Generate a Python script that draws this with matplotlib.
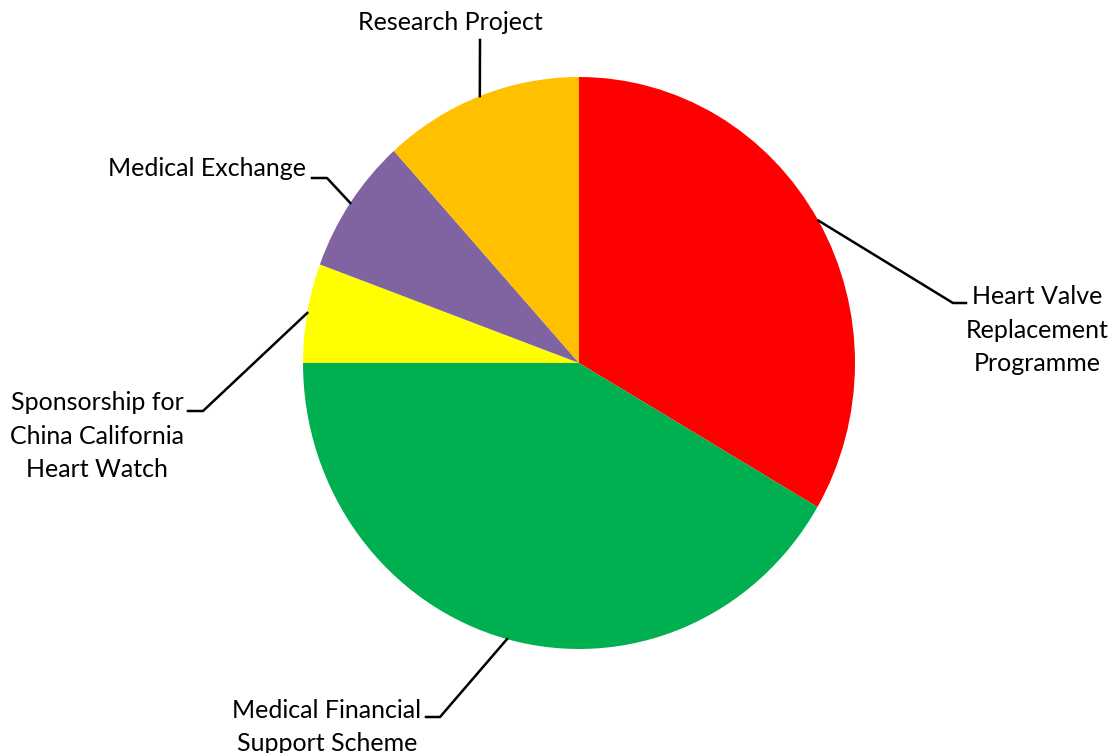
import numpy as np
import matplotlib.pyplot as plt
from matplotlib.lines import Line2D

# slices, clockwise from 12 o'clock
labels = ['Heart Valve\nReplacement\nProgramme',
          'Medical Financial\nSupport Scheme',
          'Sponsorship for\nChina California\nHeart Watch',
          'Medical Exchange',
          'Research Project']
shares = [33.4, 41.6, 5.6, 7.7, 11.7]
colors = ['#FF0000', '#00B050', '#FFFF00', '#8064A2', '#FFC000']

W, H = 1115, 753
fig = plt.figure(figsize=(W / 100, H / 100), dpi=100)

# pie is slightly taller than wide in the original
cx, cy, rx, ry = 579, 363, 276, 286
ax = fig.add_axes([(cx - rx) / W, (H - cy - ry) / H, 2 * rx / W, 2 * ry / H])
wedges, _ = ax.pie(shares, colors=colors, startangle=90, counterclock=False,
                   radius=1, wedgeprops=dict(linewidth=0))
ax.set_aspect('auto')
ax.set_xlim(-1, 1)
ax.set_ylim(-1, 1)
ax.axis('off')

def fpx(x, y):
    return x / W, 1 - y / H

# label layout in pixels: elbow point, end point, text pos, alignment
layout = [
    dict(elbow=(953, 303), end=(966, 303), txt=(1037, 330), ha='center'),
    dict(elbow=(440, 717), end=(426, 717), txt=(327, 727), ha='center'),
    dict(elbow=(203, 411), end=(188, 411), txt=(97, 436), ha='center'),
    dict(elbow=(327, 178), end=(312, 178), txt=(306, 168), ha='right'),
    dict(elbow=(480, 40), end=(480, 40), txt=(450, 22), ha='center'),
]

inv = fig.transFigure.inverted()
for w, lab, lo in zip(wedges, labels, layout):
    mid = np.deg2rad((w.theta1 + w.theta2) / 2)
    anchor = inv.transform(ax.transData.transform((np.cos(mid), np.sin(mid))))
    ex, ey = fpx(*lo['elbow'])
    nx, ny = fpx(*lo['end'])
    fig.add_artist(Line2D([anchor[0], ex, nx], [anchor[1], ey, ny],
                          transform=fig.transFigure, color='black', lw=1.8))
    tx, ty = fpx(*lo['txt'])
    fig.text(tx, ty, lab, ha=lo['ha'], va='center', multialignment='center',
             fontsize=18, family='Lato', linespacing=1.55, color='black')

fig.savefig('out.png', dpi=100, facecolor='white')
